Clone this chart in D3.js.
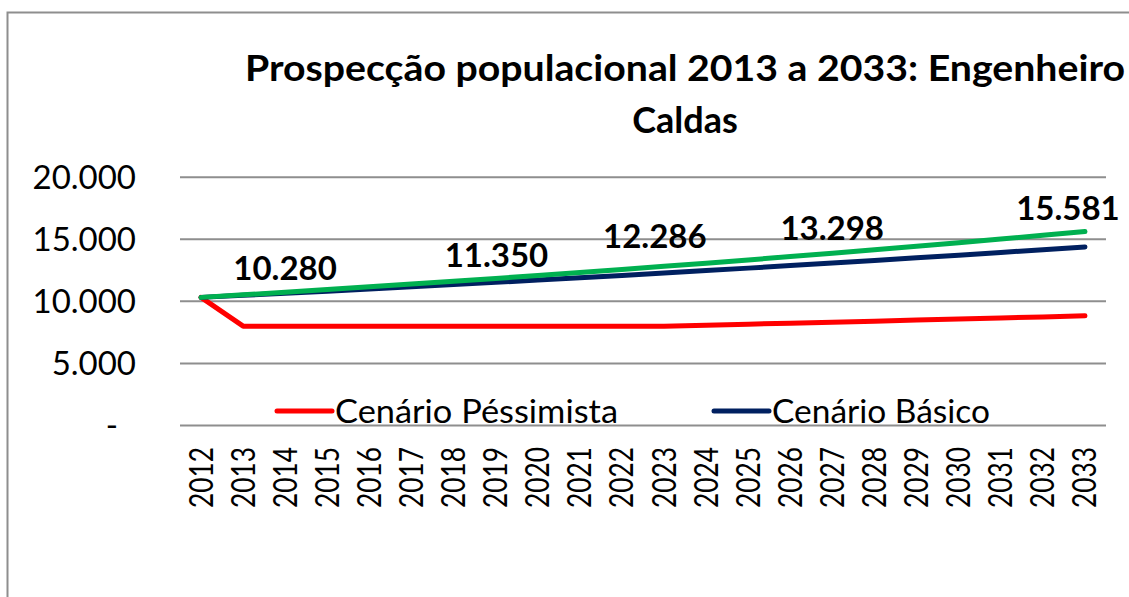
<!DOCTYPE html>
<html>
<head>
<meta charset="utf-8">
<script src="https://cdn.jsdelivr.net/npm/d3@7"></script>
<style>
  body { margin: 0; background: #fff; }
  text { font-family: Lato, "Open Sans", sans-serif; fill: #000; }
</style>
</head>
<body>
<div id="chart"></div>
<script>
///////////
// data  //
///////////

var years = [2012, 2013, 2014, 2015, 2016, 2017, 2018, 2019, 2020, 2021, 2022,
             2023, 2024, 2025, 2026, 2027, 2028, 2029, 2030, 2031, 2032, 2033];

// Cenário Péssimista (red)
var pessimista = [10280, 7960, 7960, 7960, 7960, 7960, 7960, 7960, 7960, 7960, 7960,
                  7960, 8040, 8120, 8201, 8283, 8366, 8450, 8534, 8620, 8706, 8793];

// Cenário Básico (navy)
var basico = [10280, 10444, 10612, 10781, 10954, 11129, 11307, 11488, 11672, 11859, 12048,
              12241, 12437, 12636, 12838, 13044, 13252, 13464, 13680, 13899, 14121, 14347];

// third scenario (green, not in the legend)
var otimista = [10280, 10486, 10695, 10909, 11127, 11350, 11577, 11808, 12045, 12286, 12531,
                12782, 13038, 13298, 13564, 13836, 14112, 14395, 14682, 14976, 15276, 15581];

var labelYears = [2012, 2017, 2021, 2025, 2033];
var yTicks = [0, 5000, 10000, 15000, 20000];
var titleLines = ["Prospecção populacional 2013 a 2033: Engenheiro", "Caldas"];
var legendNames = ["Cenário Péssimista", "Cenário Básico"];

///////////////
// constants //
///////////////

const chartWidth = 1129;
const chartHeight = 597;

const plotLeft = 180;
const plotRight = 1106;
const plotTop = 176.7;
const plotBottom = 425;

const red = "#ff0000";
const navy = "#002060";
const green = "#00b050";
const gridColor = "#8e8e8e";

const ptBR = d3.formatLocale({decimal: ",", thousands: ".", grouping: [3], currency: ["R$", ""]});
const fmt = ptBR.format(",.0f");

var xScale = d3.scalePoint()
               .domain(years)
               .range([plotLeft, plotRight])
               .padding(0.5);

var yScale = d3.scaleLinear()
               .domain([0, 20000])
               .range([plotBottom, plotTop]);

var svg = d3.select("#chart").append("svg")
            .attr("width", chartWidth)
            .attr("height", chartHeight);

svg.append("rect")
   .attr("width", "100%")
   .attr("height", "100%")
   .attr("fill", "#fff");

// outer chart border (cut off at right and bottom)
svg.append("rect")
   .attr("x", 7.5)
   .attr("y", 12.5)
   .attr("width", 1140)
   .attr("height", 600)
   .attr("fill", "none")
   .attr("stroke", gridColor)
   .attr("stroke-width", 2);

// squeeze a text to a measured width (Calibri is narrower than Lato)
function fitWidth(sel, target) {
	sel.each(function() {
		var w = this.getComputedTextLength();
		if (w > 0) {
			d3.select(this).attr("textLength", target).attr("lengthAdjust", "spacingAndGlyphs");
		}
	});
}

///////////
// title //
///////////

var title = svg.append("g").attr("class", "title");
title.selectAll("text")
     .data(titleLines)
     .join("text")
     .attr("x", 685)
     .attr("y", function(d, i) { return 81 + i * 52; })
     .attr("text-anchor", "middle")
     .attr("font-size", 36)
     .attr("font-weight", "bold")
     .text(function(d) { return d; });
fitWidth(title.select("text"), 880);

//////////
// axes //
//////////

var yAxis = svg.append("g")
               .attr("transform", "translate(" + plotLeft + ",0)")
               .call(d3.axisLeft(yScale)
                       .tickValues(yTicks)
                       .tickSize(-(plotRight - plotLeft))
                       .tickPadding(44)
                       .tickFormat(function(d) { return d === 0 ? "-" : fmt(d); }));
yAxis.select(".domain").remove();
yAxis.selectAll(".tick line").attr("stroke", gridColor).attr("stroke-width", 2);
yAxis.selectAll(".tick text")
     .attr("font-size", 33)
     .attr("font-family", "Lato, sans-serif")
     .attr("dy", "0.36em")
     .attr("dx", function(d) { return d === 0 ? -18 : 0; });

var xAxis = svg.append("g").attr("class", "x-labels");
xAxis.selectAll("text")
     .data(years)
     .join("text")
     .attr("transform", function(d) { return "translate(" + xScale(d) + ",447) rotate(-90)"; })
     .attr("text-anchor", "end")
     .attr("dy", "0.36em")
     .attr("font-size", 32)
     .text(function(d) { return d; });
fitWidth(xAxis.selectAll("text"), 61);

///////////
// lines //
///////////

var series = [
	{name: "pessimista", values: pessimista, color: red},
	{name: "basico", values: basico, color: navy},
	{name: "otimista", values: otimista, color: green}
];

var lineGenerator = d3.line()
                      .x(function(d, i) { return xScale(years[i]); })
                      .y(function(d) { return yScale(d); });

svg.append("g").selectAll("path")
   .data(series)
   .join("path")
   .attr("d", function(s) { return lineGenerator(s.values); })
   .attr("fill", "none")
   .attr("stroke", function(s) { return s.color; })
   .attr("stroke-width", 5)
   .attr("stroke-linecap", "round")
   .attr("stroke-linejoin", "round");

/////////////////
// data labels //
/////////////////

// labels sit to the upper right of their point, the last one is pulled back inside
var labelShift = [[84, -17], [85, -17], [75, -24], [84, -20], [-17, -12]];

svg.append("g").selectAll("text")
   .data(labelYears)
   .join("text")
   .attr("x", function(d, i) { return xScale(d) + labelShift[i][0]; })
   .attr("y", function(d, i) { return yScale(otimista[years.indexOf(d)]) + labelShift[i][1]; })
   .attr("text-anchor", "middle")
   .attr("font-size", 33)
   .attr("font-weight", "bold")
   .text(function(d) { return fmt(otimista[years.indexOf(d)]); });

////////////
// legend //
////////////

var legendX = [277, 714];
var legendColors = [red, navy];

var legend = svg.append("g").selectAll("g")
                .data(legendNames)
                .join("g")
                .attr("transform", function(d, i) { return "translate(" + legendX[i] + ",411)"; });

legend.append("line")
      .attr("x1", 0)
      .attr("x2", 55)
      .attr("stroke", function(d, i) { return legendColors[i]; })
      .attr("stroke-width", 5)
      .attr("stroke-linecap", "round");

var legendText = legend.append("text")
      .attr("x", 58)
      .attr("y", 12)
      .attr("font-size", 33)
      .text(function(d) { return d; });
fitWidth(legendText.filter(function(d, i) { return i === 0; }), 283);
fitWidth(legendText.filter(function(d, i) { return i === 1; }), 218);
</script>
</body>
</html>
